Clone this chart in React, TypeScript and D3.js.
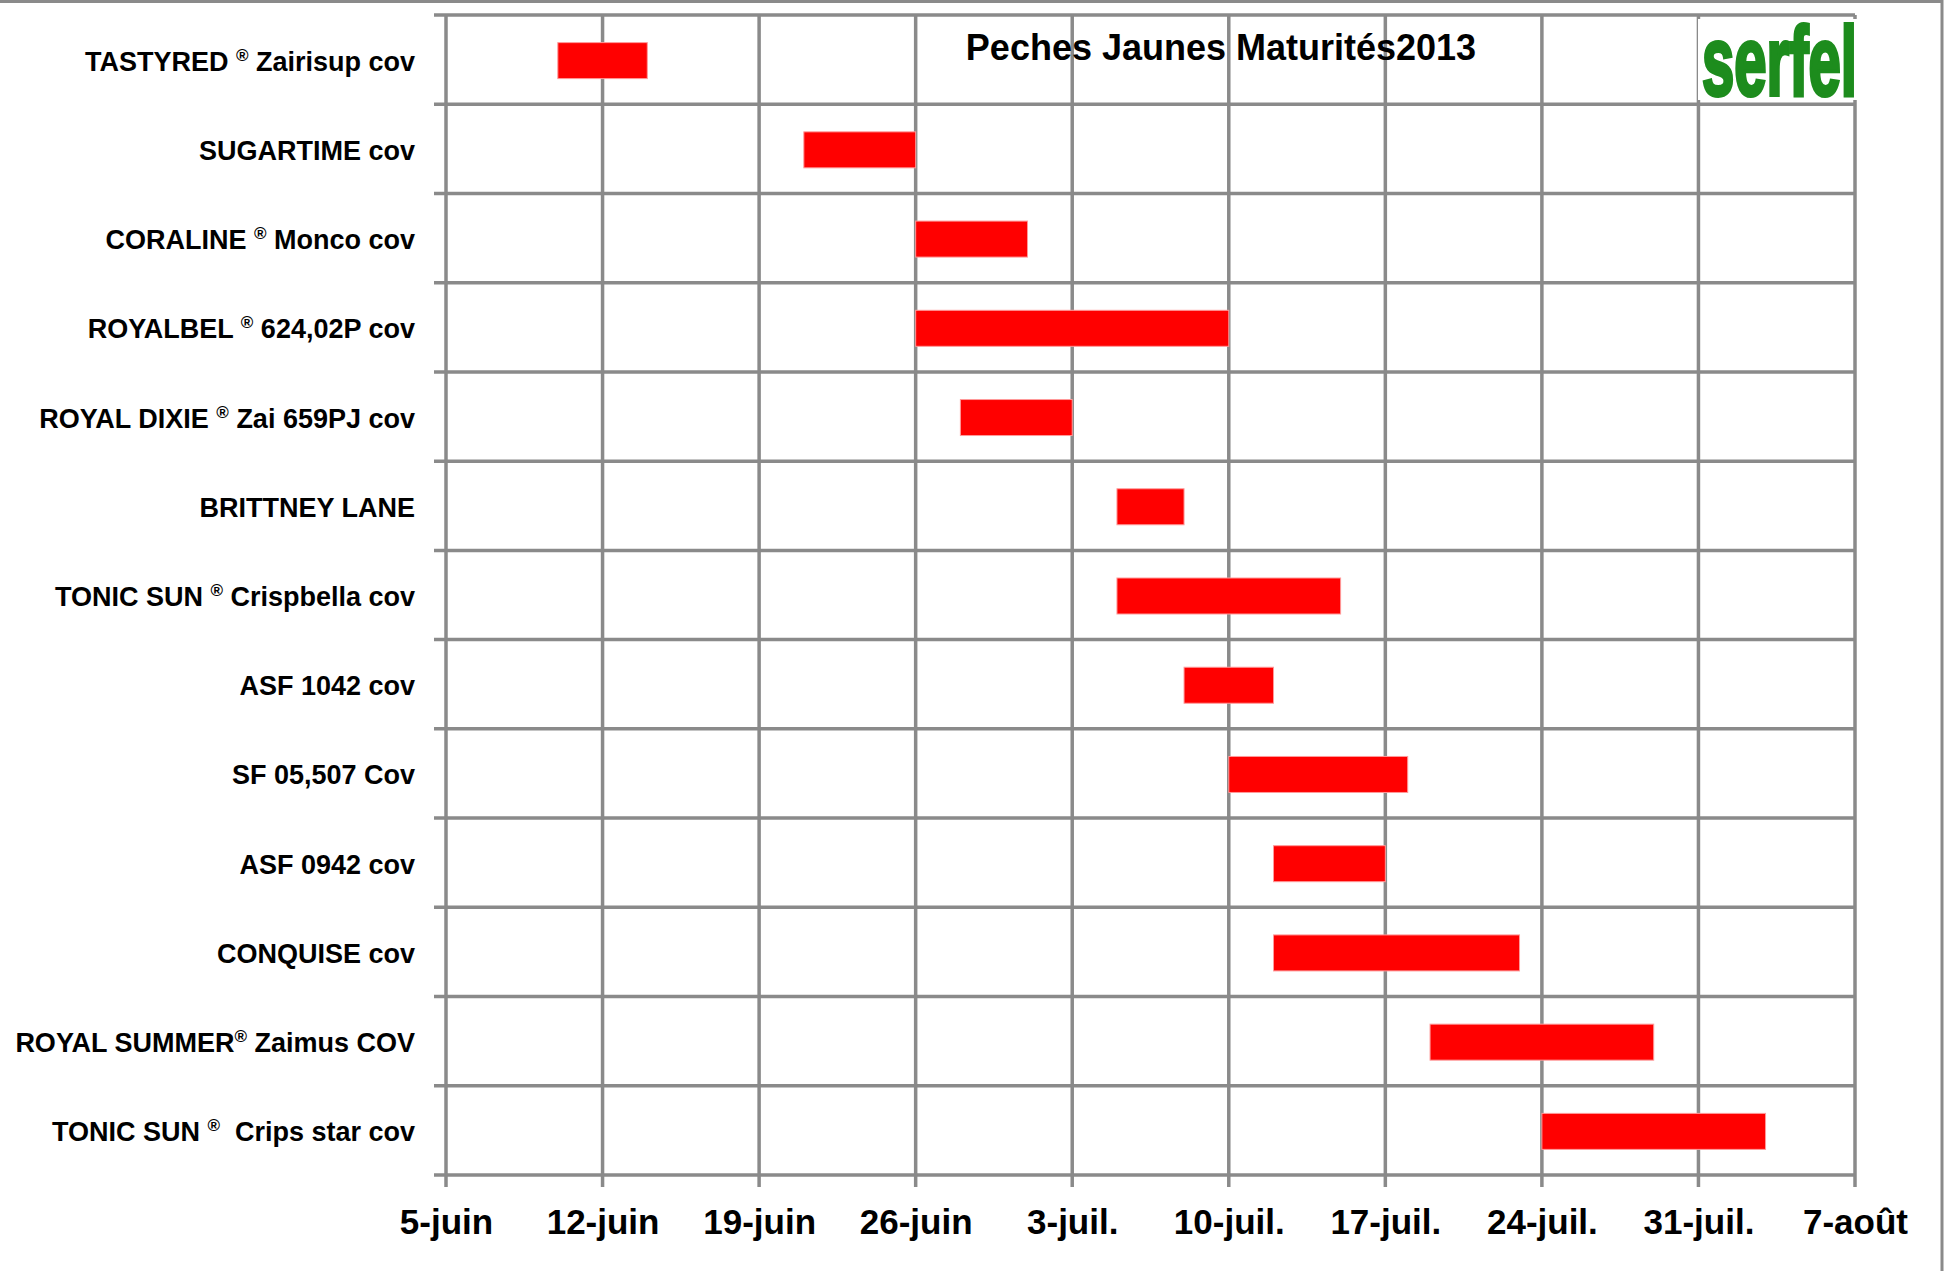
import React, { useEffect, useRef } from 'react';
import * as d3 from 'd3';

// varieties, top to bottom
const varieties = [
  'TASTYRED ® Zairisup cov',
  'SUGARTIME cov',
  'CORALINE ® Monco cov',
  'ROYALBEL ® 624,02P cov',
  'ROYAL DIXIE ® Zai 659PJ cov',
  'BRITTNEY LANE',
  'TONIC SUN ® Crispbella cov',
  'ASF 1042 cov',
  'SF 05,507 Cov',
  'ASF 0942 cov',
  'CONQUISE cov',
  'ROYAL SUMMER® Zaimus COV',
  'TONIC SUN ®  Crips star cov',
];

// maturity window start / end
const starts = [
  '2013-06-10', '2013-06-21', '2013-06-26', '2013-06-26', '2013-06-28',
  '2013-07-05', '2013-07-05', '2013-07-08', '2013-07-10', '2013-07-12',
  '2013-07-12', '2013-07-19', '2013-07-24',
];
const ends = [
  '2013-06-14', '2013-06-26', '2013-07-01', '2013-07-10', '2013-07-03',
  '2013-07-08', '2013-07-15', '2013-07-12', '2013-07-18', '2013-07-17',
  '2013-07-23', '2013-07-29', '2013-08-03',
];

const tickDates = [
  '2013-06-05', '2013-06-12', '2013-06-19', '2013-06-26', '2013-07-03',
  '2013-07-10', '2013-07-17', '2013-07-24', '2013-07-31', '2013-08-07',
];
const tickLabels = [
  '5-juin', '12-juin', '19-juin', '26-juin', '3-juil.',
  '10-juil.', '17-juil.', '24-juil.', '31-juil.', '7-août',
];

const title = 'Peches Jaunes Maturités2013';

const W = 1948, H = 1271;
const grey = '#8a8a8a';
const font = "'Liberation Sans', Arial, sans-serif";

export default function App() {
  const ref = useRef<SVGSVGElement>(null);

  useEffect(() => {
    const svg = d3.select(ref.current);
    svg.selectAll('*').remove();
    const parse = d3.timeParse('%Y-%m-%d');

    const left = 446, right = 1855, top = 15, bottom = 1175;

    const x = d3.scaleTime()
      .domain([parse(tickDates[0])!, parse(tickDates[tickDates.length - 1])!])
      .range([left, right]);

    const y = d3.scaleBand()
      .domain(varieties)
      .range([top, bottom]);

    // outer frame (top + right)
    svg.append('line').attr('x1', 0).attr('x2', 1943).attr('y1', 1.5).attr('y2', 1.5)
      .attr('stroke', grey).attr('stroke-width', 3);
    svg.append('line').attr('x1', 1942).attr('x2', 1942).attr('y1', 0).attr('y2', H)
      .attr('stroke', grey).attr('stroke-width', 3);

    // horizontal grid lines at row boundaries
    const rowEdges = varieties.map(v => y(v)!).concat([bottom]);
    svg.append('g').selectAll('line').data(rowEdges).join('line')
      .attr('x1', left - 12).attr('x2', right)
      .attr('y1', d => d).attr('y2', d => d)
      .attr('stroke', grey).attr('stroke-width', 3.5);

    // vertical grid lines
    svg.append('g').selectAll('line').data(tickDates).join('line')
      .attr('x1', d => x(parse(d)!)).attr('x2', d => x(parse(d)!))
      .attr('y1', top).attr('y2', bottom + 12)
      .attr('stroke', grey).attr('stroke-width', 3.5);

    // bottom axis
    const axis = d3.axisBottom(x)
      .tickValues(tickDates.map(d => parse(d)!))
      .tickFormat((_d, i) => tickLabels[i])
      .tickSize(12)
      .tickPadding(22);
    const ax = svg.append('g').attr('transform', `translate(0,${bottom})`).call(axis);
    ax.select('.domain').remove();
    ax.selectAll('line').remove();
    ax.selectAll('text')
      .attr('font-family', font).attr('font-weight', 'bold')
      .attr('font-size', 35).attr('fill', '#000');

    // bars
    const bh = 36;
    svg.append('g').selectAll('rect').data(varieties).join('rect')
      .attr('x', (_d, i) => x(parse(starts[i])!))
      .attr('width', (_d, i) => x(parse(ends[i])!) - x(parse(starts[i])!))
      .attr('y', d => y(d)! + y.bandwidth() / 2 - bh / 2 + 1)
      .attr('height', bh)
      .attr('fill', '#ff0000')
      .attr('stroke', '#ff9a9a').attr('stroke-width', 1);

    // category labels with superscript ®
    const labels = svg.append('g')
      .attr('font-family', font).attr('font-weight', 'bold').attr('font-size', 27)
      .attr('text-anchor', 'end').attr('fill', '#000');
    varieties.forEach(v => {
      const t = labels.append('text')
        .attr('x', 415)
        .attr('y', y(v)! + y.bandwidth() / 2 + 11)
        .style('white-space', 'pre');
      const parts = v.split('®');
      parts.forEach((p, i) => {
        if (i > 0) {
          t.append('tspan').attr('font-size', 17).attr('dy', -10).text('®');
          t.append('tspan').attr('dy', 10).text(p);
        } else {
          t.append('tspan').text(p);
        }
      });
    });

    // title
    svg.append('text')
      .attr('x', 1221).attr('y', 60)
      .attr('text-anchor', 'middle')
      .attr('font-family', font).attr('font-weight', 'bold').attr('font-size', 36)
      .attr('fill', '#000')
      .text(title);

    // logo
    svg.append('rect').attr('x', 1698).attr('y', 19).attr('width', 161).attr('height', 81)
      .attr('fill', '#fff');
    svg.append('text')
      .attr('x', 1702).attr('y', 95)
      .attr('font-family', font).attr('font-weight', 'bold').attr('font-size', 98)
      .attr('textLength', 155).attr('lengthAdjust', 'spacingAndGlyphs')
      .attr('fill', '#1d8c1d').attr('stroke', '#1d8c1d').attr('stroke-width', 4)
      .text('serfel');
  }, []);

  return (
    <svg ref={ref} width={W} height={H}
      style={{ position: 'absolute', left: 0, top: 0, background: '#fff' }} />
  );
}
